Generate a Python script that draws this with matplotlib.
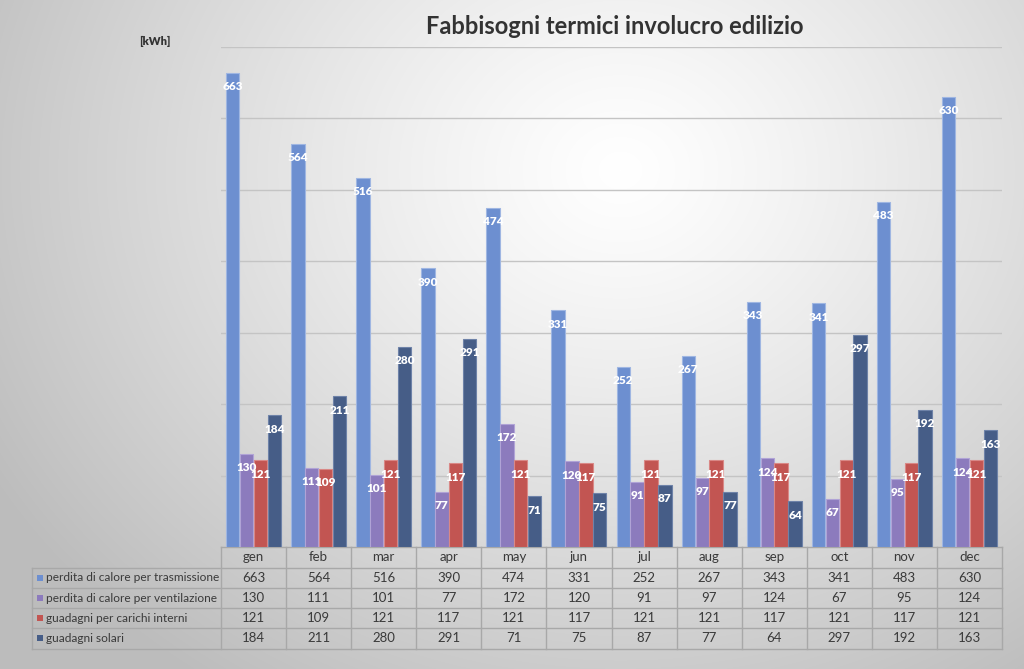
import numpy as np
import matplotlib
matplotlib.use("Agg")
import matplotlib.pyplot as plt
from matplotlib.patches import Rectangle
from matplotlib.lines import Line2D

months = ["gen", "feb", "mar", "apr", "may", "jun", "jul", "aug", "sep", "oct", "nov", "dec"]
series_names = ["perdita di calore per trasmissione", "perdita di calore per ventilazione",
                "guadagni per carichi interni", "guadagni solari"]
trasmissione = [663, 564, 516, 390, 474, 331, 252, 267, 343, 341, 483, 630]
ventilazione = [130, 111, 101, 77, 172, 120, 91, 97, 124, 67, 95, 124]
carichi_interni = [121, 109, 121, 117, 121, 117, 121, 121, 117, 121, 117, 121]
solari = [184, 211, 280, 291, 71, 75, 87, 77, 64, 297, 192, 163]
series = [trasmissione, ventilazione, carichi_interni, solari]
colors = ["#6d8fd0", "#8c7bbd", "#c25552", "#465d87"]
edges = ["#9fb6e2", "#b0a3d6", "#d98886", "#6e82a8"]

plt.rcParams['font.family'] = ['Lato', 'DejaVu Sans']

W, H = 1024, 669
fig = plt.figure(figsize=(W / 100, H / 100), dpi=100)

# radial gradient background
bg = fig.add_axes([0, 0, 1, 1])
yy, xx = np.mgrid[0:H, 0:W]
r = np.sqrt(((xx - 620) / 700.0) ** 2 + ((yy - 170) / 600.0) ** 2)
val = np.clip(1.0 - 0.25 * r ** 1.2, 0.74, 1.0)
img = np.dstack([val, val, val])
bg.imshow(img, extent=[0, W, H, 0], aspect='auto', interpolation='bilinear')
bg.set_xlim(0, W)
bg.set_ylim(H, 0)
bg.axis('off')

x0, x1 = 221, 1002
ybase, ytop = 547, 46.5
ax = fig.add_axes([x0 / W, (H - ybase) / H, (x1 - x0) / W, (ybase - ytop) / H])
ax.patch.set_alpha(0)
ax.set_xlim(0, 12)
ax.set_ylim(0, 700)
for s in ax.spines.values():
    s.set_visible(False)
ax.set_xticks([])
ax.set_yticks(np.arange(100, 701, 100))
ax.tick_params(axis='y', length=0, labelleft=False)
ax.yaxis.grid(True, color="#c4c4c4", linewidth=1.0)
ax.set_axisbelow(True)

xc = np.arange(12) + 0.5
bw = 0.205
for k, (vals, c, ec) in enumerate(zip(series, colors, edges)):
    xs = xc + (k - 1.5) * 0.213
    ax.bar(xs, vals, width=bw, color=c, edgecolor=ec, linewidth=0.8, zorder=3)
    for xv, v in zip(xs, vals):
        ax.annotate(str(v), (xv, v), xytext=(0, -10), textcoords='offset points',
                    ha='center', va='center', color='white', fontsize=8.5,
                    fontweight='heavy', zorder=5)

# title and unit
fig.text(615 / W, 1 - 27 / H, "Fabbisogni termici involucro edilizio", ha='center', va='center',
         fontsize=17, fontweight='bold', color='#333333')
fig.text(155 / W, 1 - 41 / H, "[kWh]", ha='center', va='center', fontsize=8,
         fontweight='heavy', color='#333333')

# data table (figure pixel coords via bg axes)
lc = "#a8a8a8"
rows_y = [547, 567.5, 588, 608, 628, 648.5]
xleft = 32
colw = (x1 - x0) / 12.0
def hline(y, xa, xb):
    bg.add_line(Line2D([xa, xb], [y, y], color=lc, linewidth=1.0))
def vline(x, ya, yb):
    bg.add_line(Line2D([x, x], [ya, yb], color=lc, linewidth=1.0))

hline(rows_y[0], x0, x1)
for y in rows_y[1:]:
    hline(y, xleft, x1)
vline(xleft, rows_y[1], rows_y[-1])
for i in range(13):
    vline(x0 + i * colw, rows_y[0], rows_y[-1])

tc = "#3a3a3a"
for i, m in enumerate(months):
    bg.text(x0 + (i + 0.5) * colw, (rows_y[0] + rows_y[1]) / 2, m, ha='center', va='center',
            fontsize=9.5, color=tc)
for r_i, (name, vals, c) in enumerate(zip(series_names, series, colors)):
    yc = (rows_y[r_i + 1] + rows_y[r_i + 2]) / 2
    bg.add_patch(Rectangle((37, yc - 3), 6, 6, facecolor=c, edgecolor='none'))
    bg.text(46, yc, name, ha='left', va='center', fontsize=8.6, color=tc)
    for i, v in enumerate(vals):
        bg.text(x0 + (i + 0.5) * colw, yc, str(v), ha='center', va='center',
                fontsize=9.5, color=tc)

fig.savefig("out.png", dpi=100)
